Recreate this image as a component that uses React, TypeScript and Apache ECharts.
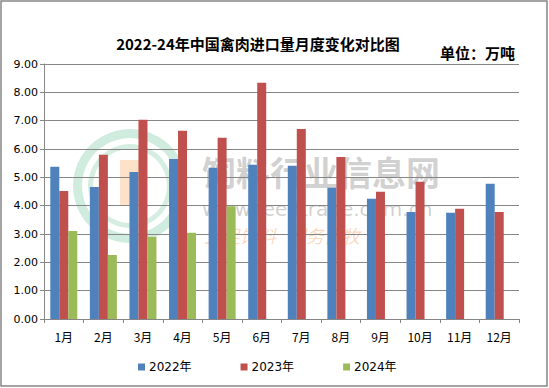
import React, { useEffect, useRef } from "react";
import * as echarts from "echarts";

const categories = ["1月", "2月", "3月", "4月", "5月", "6月", "7月", "8月", "9月", "10月", "11月", "12月"];
const yTickLabels = ["0.00", "1.00", "2.00", "3.00", "4.00", "5.00", "6.00", "7.00", "8.00", "9.00"];
const series2022 = [5.37, 4.66, 5.19, 5.65, 5.34, 5.44, 5.41, 4.63, 4.24, 3.78, 3.75, 4.77];
const series2023 = [4.52, 5.8, 7.03, 6.64, 6.4, 8.34, 6.71, 5.72, 4.49, 4.84, 3.89, 3.78];
const series2024 = [3.11, 2.26, 2.9, 3.04, 3.98, null, null, null, null, null, null, null];
const seriesNames = ["2022年", "2023年", "2024年"];
const title = "2022-24年中国禽肉进口量月度变化对比图";
const unit = "单位：万吨";

export default function App() {
  const ref = useRef<HTMLDivElement>(null);
  useEffect(() => {
    document.body.style.margin = "0";
    const chart = echarts.init(ref.current!, null, { renderer: "svg" });
    const font = "'DejaVu Sans', 'Noto Sans CJK SC', sans-serif";
    chart.setOption({
      animation: false,
      backgroundColor: "#ffffff",
      textStyle: { fontFamily: font },
      grid: { left: 44, right: 30, top: 64, bottom: 69 },
      legend: {
        left: 133,
        top: 356,
        itemWidth: 7,
        itemHeight: 7,
        itemGap: 49,
        icon: "rect",
        textStyle: { fontSize: 12, color: "#000", fontFamily: font, padding: [0, 0, 0, -1] },
        data: seriesNames,
      },
      xAxis: {
        type: "category",
        data: categories,
        axisLine: { lineStyle: { color: "#868686", width: 1 } },
        axisTick: { show: true, length: 4, lineStyle: { color: "#868686" } },
        axisLabel: { color: "#000", fontSize: 12, margin: 11, fontFamily: "'Noto Sans CJK SC', sans-serif" },
      },
      yAxis: {
        type: "value",
        min: 0,
        max: 9,
        interval: 1,
        axisLine: { show: true, lineStyle: { color: "#868686", width: 1 } },
        axisTick: { show: true, length: 4, lineStyle: { color: "#868686" } },
        splitLine: { lineStyle: { color: "#868686", width: 1 } },
        axisLabel: {
          color: "#000",
          fontSize: 11,
          margin: 6,
          formatter: (v: number) => yTickLabels[Math.round(v)] ?? v.toFixed(2),
        },
      },
      series: [
        { name: seriesNames[0], type: "bar", data: series2022, barWidth: 9, barGap: "0%", itemStyle: { color: "#4F81BD" } },
        { name: seriesNames[1], type: "bar", data: series2023, barWidth: 9, barGap: "0%", itemStyle: { color: "#C0504D" } },
        { name: seriesNames[2], type: "bar", data: series2024, barWidth: 9, barGap: "0%", itemStyle: { color: "#9BBB59" } },
      ],
      graphic: [
        {
          type: "rect",
          shape: { x: 1, y: 1, width: 546, height: 385 },
          style: { fill: "none", stroke: "#868686", lineWidth: 1.5 },
          silent: true,
          z: 100,
        },
        {
          type: "text",
          x: 258,
          y: 43,
          style: {
            text: title,
            fontSize: 15,
            fontWeight: "bold",
            fontFamily: "'Noto Sans CJK SC', sans-serif",
            fill: "#000",
            align: "center",
            verticalAlign: "middle",
          },
        },
        {
          type: "text",
          x: 515,
          y: 52,
          style: {
            text: unit,
            fontSize: 15,
            fontWeight: "bold",
            fontFamily: "'Noto Sans CJK SC', sans-serif",
            fill: "#000",
            align: "right",
            verticalAlign: "middle",
          },
        },
        // watermark
        {
          type: "group",
          silent: true,
          z: 50,
          children: [
            { type: "ring", shape: { cx: 130, cy: 186, r: 57, r0: 48 }, style: { fill: "rgba(120,200,160,0.35)" } },
            { type: "ring", shape: { cx: 130, cy: 186, r: 42, r0: 37 }, style: { fill: "rgba(120,200,160,0.3)" } },
            { type: "rect", shape: { x: 120, y: 160, width: 20, height: 45 }, style: { fill: "rgba(250,170,100,0.35)" } },
            {
              type: "text",
              x: 202,
              y: 171,
              style: {
                text: "饲料行业信息网",
                fontSize: 34,
                fontWeight: "bold",
                fontFamily: "'Noto Sans CJK SC', sans-serif",
                fill: "rgba(150,150,150,0.45)",
                verticalAlign: "middle",
              },
            },
            {
              type: "text",
              x: 202,
              y: 209,
              style: {
                text: "www.feedtrade.com.cn",
                fontSize: 20,
                fontFamily: "'DejaVu Sans', sans-serif",
                fill: "rgba(150,150,150,0.45)",
                verticalAlign: "middle",
              },
            },
            {
              type: "text",
              x: 204,
              y: 235,
              style: {
                text: "立足饲料   服务畜牧",
                fontSize: 18,
                fontStyle: "italic",
                fontFamily: "'Noto Sans CJK SC', sans-serif",
                fill: "rgba(250,170,110,0.45)",
                verticalAlign: "middle",
              },
            },
          ],
        },
      ],
    });
    return () => chart.dispose();
  }, []);
  return <div ref={ref} style={{ width: 549, height: 388 }} />;
}
